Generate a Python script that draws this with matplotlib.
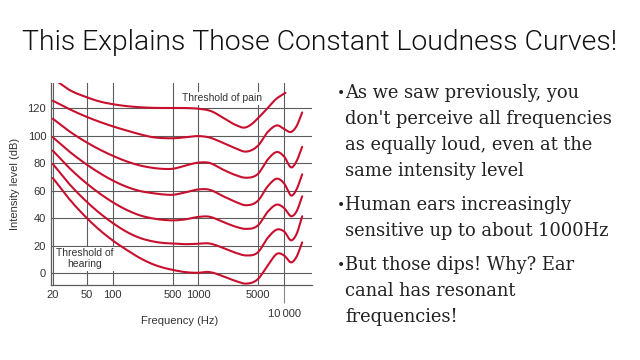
import numpy as np
import matplotlib
matplotlib.use("Agg")
import matplotlib.pyplot as plt

# ---------------- data ----------------
freqs = [20, 30, 50, 70, 100, 150, 200, 300, 400, 500, 700, 1000, 1300,
         2000, 2700, 3600, 5000, 6500, 8500, 10000, 12300, 14000, 16300]
phon100 = [125.5, 119.9, 113.7, 110.2, 106.9, 103.6, 101.4, 98.9, 98.3, 98.2, 98.9, 99.8, 99,
           94.5, 91, 88.5, 93, 103, 107.5, 105, 103, 107, 117]
phon80 = [112.4, 104.0, 95.1, 90.1, 85.5, 81.1, 78.7, 76.6, 75.9, 76.0, 78.3, 80.5, 80.5,
          75, 71.5, 69.5, 72.5, 83, 88.2, 85, 77, 81.5, 92]
phon60 = [98.9, 89.4, 79.0, 73.0, 67.5, 62.6, 60.1, 58.2, 57.3, 57.1, 58.8, 61, 61,
          55.7, 52, 49.5, 53, 63.5, 68.8, 65.5, 56.5, 61, 72]
phon40 = [89.2, 77.6, 65.2, 58.2, 51.7, 45.7, 42.5, 39.8, 38.8, 38.5, 39.2, 41, 41.3,
          37, 34, 32.3, 35, 45, 50, 47.5, 41.5, 45, 56]
phon20 = [79.5, 66.1, 51.9, 43.9, 36.6, 29.7, 26.1, 23.1, 22.0, 21.7, 21.2, 21.5, 21.8,
          18.2, 15, 13, 15.5, 26, 32, 30.5, 24, 28.5, 41.5]
phon0 = [69.3, 55.2, 40.1, 31.6, 23.9, 16.5, 11.7, 6.4, 3.9, 2.5, 0.9, 0.4, 1,
         -2.4, -5.5, -7.5, -4, 6, 14.5, 13, 8, 12, 22.5]

freqs120 = [22.5, 30, 50, 70, 100, 150, 250, 500, 700, 1000, 1400, 2000, 2700,
            3500, 4200, 5000, 6300, 8000, 10400]
phon120 = [139.5, 134, 128, 125, 123, 121.5, 120.5, 120.2, 120.2, 119.7, 118, 112.7, 108,
           106, 108.5, 113, 119.5, 126.5, 131.3]

xtick_vals = [20, 50, 100, 500, 1000, 5000]
xtick_labels = ["20", "50", "100", "500", "1000", "5000"]
xtick_low_vals = [10000]
xtick_low_labels = ["10\u2009000"]
ytick_vals = [0, 20, 40, 60, 80, 100, 120]

title = "This Explains Those Constant Loudness Curves!"
bullets = [
    ["As we saw previously, you", "don't perceive all frequencies",
     "as equally loud, even at the", "same intensity level"],
    ["Human ears increasingly", "sensitive up to about 1000Hz"],
    ["But those dips! Why? Ear", "canal has resonant", "frequencies!"],
]


def smooth(xv, yv, n=30):
    """Cubic Hermite drawing of a line through the given points (log-x space)."""
    x = np.log10(np.asarray(xv, float))
    y = np.asarray(yv, float)
    h = np.diff(x)
    d = np.diff(y) / h
    m = np.empty_like(y)
    m[1:-1] = (d[:-1] * h[1:] + d[1:] * h[:-1]) / (h[:-1] + h[1:])
    m[0] = d[0]
    m[-1] = d[-1]
    xs, ys = [], []
    t = np.linspace(0, 1, n, endpoint=False)
    for i in range(len(x) - 1):
        h00 = 2 * t**3 - 3 * t**2 + 1
        h10 = t**3 - 2 * t**2 + t
        h01 = -2 * t**3 + 3 * t**2
        h11 = t**3 - t**2
        ys.append(h00 * y[i] + h10 * h[i] * m[i] + h01 * y[i + 1] + h11 * h[i] * m[i + 1])
        xs.append(x[i] + t * h[i])
    xs.append([x[-1]])
    ys.append([y[-1]])
    return 10 ** np.concatenate(xs), np.concatenate(ys)


plt.rcParams["font.family"] = ["Liberation Sans", "DejaVu Sans"]

fig = plt.figure(figsize=(6.4, 3.6), dpi=100)
fig.patch.set_facecolor("white")
ax = fig.add_axes([51 / 640, 75 / 360, 260.7 / 640, 202 / 360])

ax.set_xscale("log")
ax.set_xlim(19.04, 21050)
ax.set_ylim(-8.5, 138.4)

grid_c = "#5c5c5c"
ax.set_xticks(xtick_vals, xtick_labels)
ax.set_xticks(xtick_low_vals, xtick_low_labels, minor=True)
ax.set_yticks(ytick_vals, [str(v) for v in ytick_vals])
ax.tick_params(axis="x", which="major", length=0, pad=3.3, labelsize=8, labelcolor="#333333")
ax.tick_params(axis="x", which="minor", length=13, width=0.8, color="#8a8a8a",
               direction="out", pad=4, labelsize=8, labelcolor="#333333")
ax.tick_params(axis="y", which="both", length=0, pad=3.5, labelsize=8, labelcolor="#333333")
ax.yaxis.set_minor_locator(matplotlib.ticker.NullLocator())

ax.grid(True, which="both", axis="x", color=grid_c, lw=0.8)
ax.grid(True, which="major", axis="y", color=grid_c, lw=0.8)
ax.set_axisbelow(True)
for s in ("top", "right"):
    ax.spines[s].set_visible(False)
for s in ("left", "bottom"):
    ax.spines[s].set_color(grid_c)
    ax.spines[s].set_linewidth(0.9)

red = "#c8102e"
for fx, fy in [(freqs120, phon120), (freqs, phon100), (freqs, phon80), (freqs, phon60),
               (freqs, phon40), (freqs, phon20), (freqs, phon0)]:
    sx, sy = smooth(fx, fy)
    ax.plot(sx, sy, color=red, lw=1.5, solid_capstyle="round", zorder=3)

box = dict(boxstyle="square,pad=0.12", facecolor="white", edgecolor="none")
ax.text(1866, 127.3, "Threshold of pain", fontsize=7.5, color="#333333",
        ha="center", va="center", bbox=box, zorder=4)
ax.text(47.5, 10.5, "Threshold of\nhearing", fontsize=7.5, color="#333333",
        ha="center", va="center", linespacing=1.15, bbox=box, zorder=4)

ax.set_xlabel("Frequency (Hz)", fontsize=8, color="#333333")
ax.xaxis.set_label_coords((180 - 51) / 260.7, (285 - 321) / 202)
ax.xaxis.label.set_verticalalignment("center")
ax.set_ylabel("Intensity level (dB)", fontsize=8, color="#333333")
ax.yaxis.set_label_coords((15 - 51) / 260.7, 0.5)
ax.yaxis.label.set_verticalalignment("center")

# ---------------- slide text ----------------
fig.text(0.5, 1 - 50 / 360, title, ha="center", va="baseline",
         fontsize=20.4, color="#111111", family=["Roboto", "DejaVu Sans"], fontweight=300)

serif = ["DejaVu Serif", "Liberation Serif"]
baselines = [[98.3, 124.5, 150.3, 176.0], [210.0, 236.0], [270.0, 296.0, 321.7]]
for lines, ys in zip(bullets, baselines):
    fig.text(337 / 640, 1 - (ys[0] - 0.5) / 360, "\u2022", ha="left", va="baseline",
             fontsize=10, color="#222222", family=serif)
    for line, yb in zip(lines, ys):
        fig.text(345 / 640, 1 - yb / 360, line, ha="left", va="baseline",
                 fontsize=12.9, color="#222222", family=serif)

fig.savefig("out.png", dpi=100, facecolor="white")
